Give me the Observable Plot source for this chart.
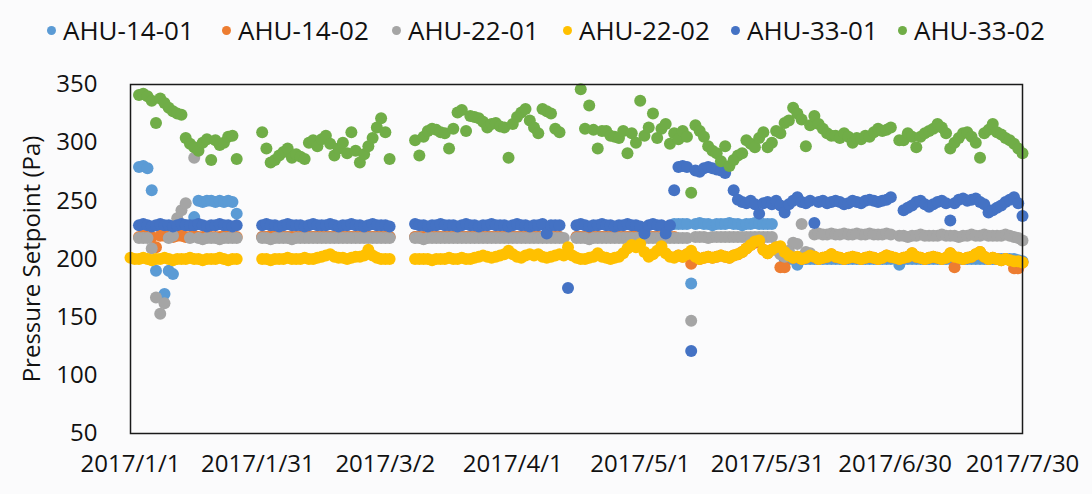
<!DOCTYPE html>
<html>
<head>
<meta charset="utf-8">
<script src="https://cdn.jsdelivr.net/npm/d3@7"></script>
<script src="https://cdn.jsdelivr.net/npm/@observablehq/plot@0.6"></script>
<style>
  html, body { margin: 0; padding: 0; background: #fbfbfc; }
  body { width: 1092px; height: 494px; overflow: hidden; font-family: "Open Sans", sans-serif; }
  #legend { position: relative; height: 60px; font-size: 26px; color: #111; }
  .item { position: absolute; top: 12px; display: flex; align-items: center; white-space: nowrap; }
  .sw { width: 9px; height: 9px; border-radius: 50%; margin-right: 7px; }
</style>
</head>
<body>
<div id="legend"></div>
<div id="chart"></div>
<script>
const _ = null;
const seriesNames = ["AHU-14-01", "AHU-14-02", "AHU-22-01", "AHU-22-02", "AHU-33-01", "AHU-33-02"];
const seriesColors = ["#5B9BD5", "#ED7D31", "#A5A5A5", "#FFC000", "#4472C4", "#70AD47"];
const startDate = "2017-01-01";
const endDate = "2017-07-30";
const tickDates = ["2017-01-01", "2017-01-31", "2017-03-02", "2017-04-01", "2017-05-01", "2017-05-31", "2017-06-30", "2017-07-30"];
const yTicks = [50, 100, 150, 200, 250, 300, 350];

// one value per day starting 2017-01-01 (index = day offset), null = no reading
const ahu1401 = [
  _,_,279,280,278,259,190,229,170,190,
  187,229,229,229,229,236,250,249,250,250,
  249,250,249,250,249,239,_,_,_,_,
  _,219,219,219,219,219,219,219,219,219,
  219,219,219,219,219,219,219,219,219,219,
  219,219,219,219,219,219,219,219,219,219,
  219,219,_,_,_,_,_,219,219,219,
  219,219,219,219,219,219,219,219,219,219,
  219,219,219,219,219,219,219,219,219,219,
  219,219,219,219,219,219,219,219,219,219,
  219,219,_,_,_,219,219,219,219,219,
  219,219,219,219,219,219,219,219,219,219,
  219,219,219,219,219,219,219,219,230,230,
  230,230,179,230,231,230,230,229,230,230,
  230,231,230,230,229,230,230,231,230,230,
  230,230,208,209,200,200,200,195,200,200,
  200,200,200,200,200,200,200,200,200,200,
  200,200,200,200,200,200,200,200,200,200,
  _,195,200,200,200,200,200,200,200,200,
  200,200,200,200,200,200,200,200,200,200,
  200,200,200,200,200,200,200,200,200,199,198
];
const ahu1402 = [
  _,_,219,220,219,219,210,220,220,219,
  219,220,220,219,219,220,219,219,220,219,
  219,219,220,219,219,219,_,_,_,_,
  _,219,219,220,219,219,219,219,219,219,
  219,219,219,219,219,219,219,219,219,219,
  219,219,219,219,219,219,219,219,219,219,
  219,219,_,_,_,_,_,219,219,219,
  219,219,219,219,219,219,219,219,219,219,
  219,219,219,219,219,219,219,219,219,219,
  219,219,219,219,219,219,219,219,219,219,
  219,219,_,_,_,219,219,219,219,219,
  219,219,219,219,219,219,219,219,219,221,
  219,219,219,219,219,219,219,219,219,203,
  202,204,196,202,200,201,202,201,202,203,
  202,201,203,204,206,209,212,214,215,208,
  205,208,210,193,193,203,201,202,200,201,
  203,202,200,201,202,204,202,201,200,201,
  202,201,200,201,202,201,200,201,203,202,
  _,200,201,202,205,202,201,200,201,202,
  201,200,201,205,193,201,200,201,202,204,
  206,202,200,201,200,199,200,199,192,192,197
];
const ahu2201 = [
  _,_,218,218,218,209,167,153,162,218,
  220,235,242,248,218,287,218,217,218,218,
  218,217,218,218,218,218,_,_,_,_,
  _,218,218,217,218,218,218,218,217,218,
  218,218,218,218,218,218,218,218,218,218,
  218,218,218,218,218,218,218,218,218,218,
  218,218,_,_,_,_,_,218,218,217,
  218,218,218,218,218,218,218,218,218,218,
  218,218,218,218,218,218,218,218,218,218,
  218,218,218,218,218,218,218,218,218,218,
  218,218,218,_,_,218,218,218,217,218,
  218,218,218,218,218,218,218,218,218,218,
  218,218,218,218,218,218,218,218,218,218,
  218,218,147,219,219,219,218,219,219,219,
  219,219,219,219,219,219,219,219,219,219,
  219,219,208,204,202,207,214,213,230,206,
  205,221,222,221,221,222,221,221,222,221,
  221,222,221,221,222,221,221,221,222,221,
  _,220,220,219,220,220,221,220,220,220,
  220,221,220,220,220,219,220,220,221,220,
  220,221,220,220,220,220,221,220,219,218,216
];
const ahu2202 = [
  201,200,200,201,200,199,200,200,201,200,
  199,200,200,200,201,200,200,199,200,200,
  200,201,200,199,200,200,_,_,_,_,
  _,200,200,199,200,200,200,201,200,200,
  200,201,200,200,201,202,203,204,202,201,
  201,200,201,202,202,203,208,203,201,200,
  200,200,_,_,_,_,_,200,200,200,
  200,199,200,200,200,201,200,200,201,200,
  200,201,202,203,202,201,202,203,204,207,
  204,202,201,203,204,203,204,202,201,202,
  203,204,203,210,203,201,200,200,201,202,
  205,202,201,200,201,202,205,209,212,210,
  213,206,202,204,207,211,205,202,201,203,
  202,204,207,202,200,201,202,201,202,203,
  202,201,203,204,206,209,212,215,216,208,
  205,208,210,211,206,203,201,202,200,201,
  203,202,200,201,202,204,202,201,200,201,
  202,201,200,201,202,201,200,201,203,202,
  201,200,201,202,205,202,201,200,201,202,
  201,200,201,205,202,201,200,201,202,204,
  206,202,200,201,200,199,200,199,198,198,197
];
const ahu3301 = [
  _,_,229,230,229,228,229,230,229,229,
  228,229,230,229,229,229,230,229,228,229,
  229,230,229,229,228,229,_,_,_,_,
  _,229,230,229,229,228,229,230,229,229,
  229,228,229,230,229,229,229,230,229,228,
  229,229,230,229,229,228,229,230,229,229,
  229,228,_,_,_,_,_,230,229,229,
  228,229,229,230,229,229,229,228,229,230,
  229,229,228,229,229,230,229,229,229,228,
  229,230,229,229,228,229,229,230,222,229,
  229,229,_,175,_,229,230,229,228,229,
  229,230,229,229,228,229,229,230,229,229,
  228,222,229,230,229,229,222,229,259,279,
  280,279,121,276,275,278,279,278,277,276,
  274,_,259,251,249,248,250,247,239,248,
  249,247,250,246,240,247,250,253,249,248,
  250,231,249,250,248,249,250,249,247,248,
  250,249,248,250,251,250,249,250,251,253,
  _,_,242,244,246,249,250,247,245,247,
  249,250,248,233,248,251,252,250,251,252,
  249,247,240,242,244,246,249,251,253,248,237
];
const ahu3302 = [
  _,_,341,342,340,336,317,338,334,330,
  327,325,324,304,299,296,293,300,303,285,
  302,298,300,305,306,286,_,_,_,_,
  _,309,295,283,285,289,292,295,287,290,
  288,286,300,302,297,303,306,299,289,295,
  300,291,309,293,283,290,297,304,313,321,
  309,286,_,_,_,_,_,302,289,305,
  310,312,311,309,308,295,312,326,328,310,
  323,322,321,318,313,316,317,314,313,287,
  316,322,326,329,319,313,308,329,327,325,
  312,309,_,_,_,_,346,312,332,311,
  295,310,310,306,305,304,310,291,308,300,
  336,306,313,325,304,312,316,299,308,303,
  310,305,257,315,310,305,297,293,291,284,
  297,280,285,289,291,302,299,296,304,309,
  296,300,310,308,317,319,330,325,320,297,
  315,323,316,312,308,306,306,304,308,305,
  300,304,303,306,305,309,312,310,311,313,
  _,302,302,308,305,296,305,308,310,312,
  316,313,308,295,300,304,308,309,305,300,
  287,308,311,316,309,307,304,302,299,295,291
];
const seriesValues = [ahu1401, ahu1402, ahu2201, ahu2202, ahu3301, ahu3302];

// build table
const t0 = new Date(startDate + "T00:00:00Z");
const rows = [];
seriesNames.forEach((name, k) => {
  seriesValues[k].forEach((v, i) => {
    if (v != null) rows.push({date: d3.utcDay.offset(t0, i), value: v, series: name});
  });
});

// legend
const legendLeft = [47, 222, 392, 563, 731, 898];
const legend = document.getElementById("legend");
seriesNames.forEach((name, k) => {
  const it = document.createElement("div");
  it.className = "item";
  it.style.left = legendLeft[k] + "px";
  it.innerHTML = `<span class="sw" style="background:${seriesColors[k]}"></span><span>${name}</span>`;
  legend.appendChild(it);
});

const chart = Plot.plot({
  width: 1092,
  height: 434,
  marginTop: 24,
  marginBottom: 61,
  marginLeft: 130,
  marginRight: 70,
  style: {fontFamily: "'Open Sans', sans-serif", fontSize: "24px", background: "#fbfbfc", color: "#111", overflow: "visible"},
  x: {
    type: "utc",
    domain: [new Date(startDate + "T00:00:00Z"), new Date(endDate + "T00:00:00Z")],
    ticks: tickDates.map(d => new Date(d + "T00:00:00Z")),
    tickFormat: d3.utcFormat("%Y/%-m/%-d"),
    tickSize: 0,
    tickPadding: 21,
    label: null
  },
  y: {
    domain: [50, 350],
    ticks: yTicks,
    tickSize: 0,
    tickPadding: 33,
    label: null
  },
  color: {domain: seriesNames, range: seriesColors},
  marks: [
    Plot.dot(rows, {x: "date", y: "value", fill: "series", r: 6}),
    Plot.frame({stroke: "#1a1a1a", strokeWidth: 1.5}),
    Plot.text(["Pressure Setpoint (Pa)"], {text: d => d, frameAnchor: "left", textAnchor: "middle", rotate: -90, dx: -98, fontSize: 24, fill: "#111"})
  ]
});
document.getElementById("chart").appendChild(chart);
</script>
</body>
</html>
